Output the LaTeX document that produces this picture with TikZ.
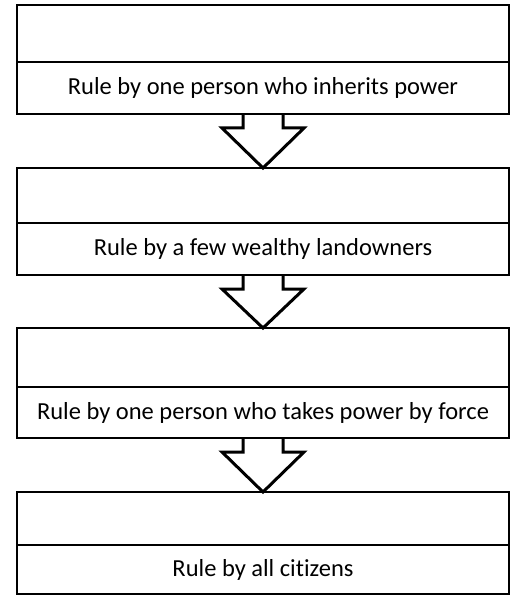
\documentclass[tikz,border=0pt]{standalone}
\usepackage{fontspec}
\setmainfont{Carlito}[Ligatures=NoCommon]
\usetikzlibrary{calc,positioning}
\begin{document}
\begin{tikzpicture}[x=1pt, y=-1pt,
    upper/.style={rectangle, draw, line width=2.4pt, minimum width=492pt, inner sep=0pt, outer sep=0pt, anchor=north west},
    lower/.style={rectangle, draw, line width=2.4pt, minimum width=492pt, minimum height=52pt, inner sep=0pt, outer sep=0pt, font=\fontsize{24.5}{28}\selectfont},
    arrow/.style={draw, line width=3pt, line join=miter}]
    \useasboundingbox (0,0) rectangle (515,596);
    \node[upper, minimum height=57pt] (top1) at (17,5) {};
    \node[lower, below=0pt of top1] (rule1) {Rule by one person who inherits power};
    \node[upper, minimum height=55pt] (top2) at (17,168) {};
    \node[lower, below=0pt of top2] (rule2) {Rule by a few wealthy landowners};
    \node[upper, minimum height=59pt] (top3) at (17,328) {};
    \node[lower, minimum height=51pt, below=0pt of top3] (rule3) {Rule by one person who takes power by force};
    \node[upper, minimum height=53pt] (top4) at (17,492) {};
    \node[lower, minimum height=49pt, below=0pt of top4] (rule4) {Rule by all citizens};
    
    \draw[arrow] ($(rule1.south)+(-20,0)$) -- ++(0,14) -- ++(-21,0) -- (top2.north) -- ($(rule1.south)+(41,14)$) -- ++(-21,0) -- ($(rule1.south)+(20,0)$);
    \draw[arrow] ($(rule2.south)+(-20,0)$) -- ++(0,14) -- ++(-21,0) -- (top3.north) -- ($(rule2.south)+(41,14)$) -- ++(-21,0) -- ($(rule2.south)+(20,0)$);
    \draw[arrow] ($(rule3.south)+(-20,0)$) -- ++(0,14) -- ++(-21,0) -- (top4.north) -- ($(rule3.south)+(41,14)$) -- ++(-21,0) -- ($(rule3.south)+(20,0)$);
\end{tikzpicture}
\end{document}
